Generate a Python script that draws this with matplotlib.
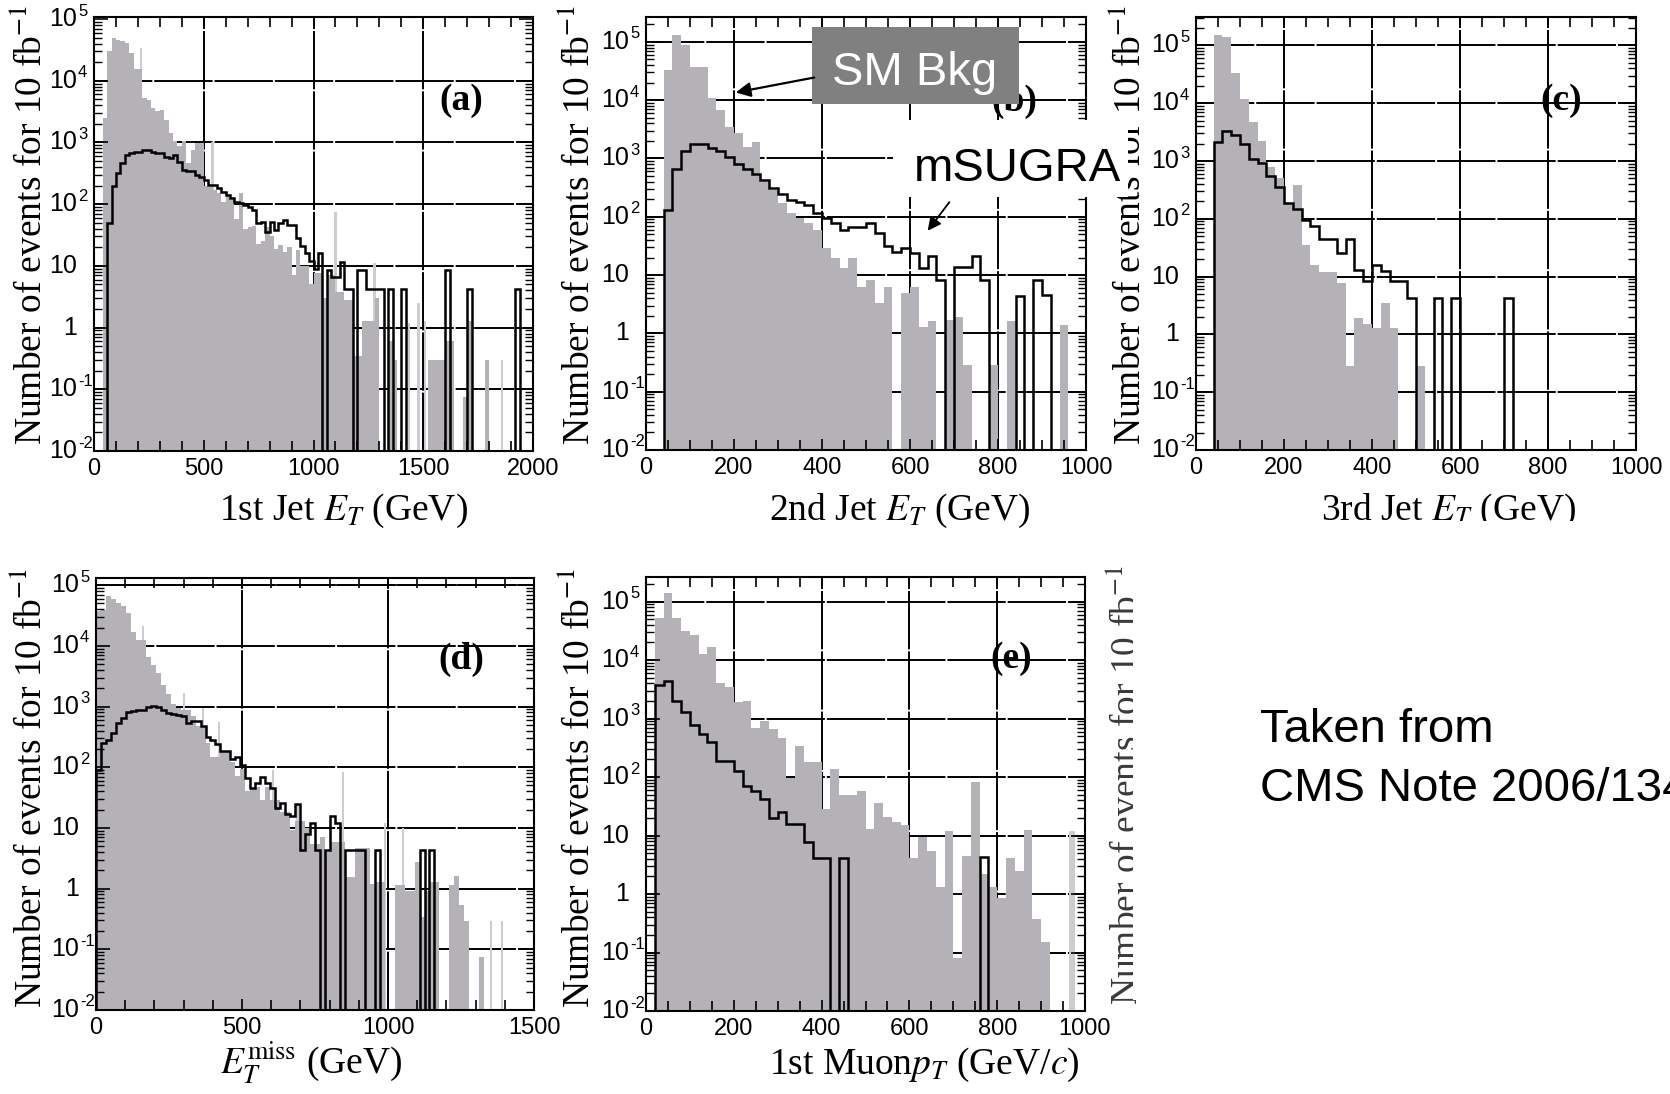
import numpy as np
import matplotlib
matplotlib.use("Agg")
import matplotlib.pyplot as plt
from matplotlib import transforms
from matplotlib.patches import Rectangle, FancyArrowPatch
from matplotlib.ticker import NullFormatter, FixedLocator

W, H, DPI = 1670, 1094, 100

BKG_COLOR = "#b4b2b7"
SPIKE_COLOR = "#cdcdd0"

# ---------------- (a) 1st jet ET, 20 GeV bins from 40 to 2000 GeV
a_edges = np.arange(40, 2001, 20)
a_bkg = [2500, 30000, 49000, 46000, 44000, 41000, 28000, 15500, 15500, 5200,
         4900, 3600, 3200, 3400, 2300, 1400, 1050, 870, 1050, 460,
         760, 980, 980, 200, 190, 170, 150, 110, 130, 115,
         58, 150, 40, 42, 45, 23, 25, 42, 30, 19,
         22, 17, 20, 7, 18, 10, 10, 5, 7.6, 7.6,
         3, 7, 7, 3.8, 3.8, 2.8, 2.8, 0.35, 0.35, 1.3,
         1.3, 1.3, 3, 0, 0, 0.6, 0.3, 0, 0, 0,
         0, 0, 0, 0, 0.3, 0.3, 0.3, 0.3, 0.6, 0.6,
         0, 0, 0.076, 1.3, 0, 0, 0, 0.3, 0, 0,
         0, 0, 0, 0, 0, 0, 0, 0]
a_sugra = [0, 49, 195, 315, 460, 630, 670, 710, 710, 760,
           760, 710, 670, 670, 590, 560, 630, 490, 360, 340,
           340, 300, 280, 245, 205, 205, 180, 160, 140, 125,
           110, 103, 96, 90, 80, 49, 52, 35, 52, 38,
           49, 56, 46, 46, 28, 21, 16, 12, 9, 16,
           0, 8.5, 6.6, 6.6, 11.5, 4.3, 4.3, 0, 8.5, 8.5,
           4.3, 4.3, 4.3, 4.3, 0, 4.3, 0, 0, 4.3, 0,
           0, 0, 0, 0, 0, 0, 0, 0, 8.5, 0,
           0, 0, 0, 4.3, 0, 0, 0, 0, 0, 0,
           0, 0, 0, 0, 4.3, 0, 0, 0]
a_spike_x = [215, 540, 1100, 1278, 1435, 1478, 1508, 1858]
a_spike_y = [34000, 1000, 75, 11, 1.2, 2.5, 1.3, 0.3]

# ---------------- (b) 2nd jet ET, 20 GeV bins from 40 to 1000 GeV
b_edges = np.arange(40, 1001, 20)
b_bkg = [3.3e4, 1.3e5, 8.8e4, 3.7e4, 3.7e4, 1.07e4, 6.8e3, 3.5e3, 2.7e3, 1.6e3,
         1.9e3, 400, 290, 170, 115, 94, 77, 59, 29, 20,
         13, 20, 6.3, 8.2, 3.3, 6.3, 0, 4.9, 6.3, 1.3,
         1.6, 0, 1.7, 1.9, 0.29, 0, 0, 0.29, 0, 1.6,
         0, 0, 0, 0, 0, 1.4, 0, 0]
b_sugra = [130, 660, 1350, 1750, 1750, 1500, 1350, 1070, 820, 670,
           550, 425, 310, 250, 194, 182, 160, 115, 94, 79,
           59, 67, 67, 77, 52, 31, 25, 29, 24, 13,
           21, 8.2, 0, 14, 14, 21, 8.2, 0, 0, 0,
           4.3, 0, 8.2, 4.6, 0, 0, 0, 0]

# ---------------- (c) 3rd jet ET, 20 GeV bins from 40 to 1000 GeV
c_edges = np.arange(40, 1001, 20)
c_bkg = [1.5e5, 1.4e5, 3.3e4, 1.2e4, 4.8e3, 2.2e3, 800, 500, 185, 390,
         35, 16, 12, 12, 7.7, 0.28, 1.95, 1.5, 1.3, 3.5,
         1.3, 0, 0, 0.28, 0, 0, 0, 0, 0, 0,
         0, 0, 0, 0, 0, 0, 0, 0, 0, 0,
         0, 0, 0, 0, 0, 0, 0, 0]
c_sugra = [2100, 3300, 2800, 2000, 1070, 910, 540, 350, 185, 150,
           96, 74, 44, 44, 26, 44, 13, 8.3, 16, 12.4,
           8.3, 8.3, 4.3, 0, 0, 4.3, 0, 4.3, 0, 0,
           0, 0, 0, 4.3, 0, 0, 0, 0, 0, 0,
           0, 0, 0, 0, 0, 0, 0, 0]

# ---------------- (d) missing ET, 88 bins over 0-1500 GeV
d_edges = np.linspace(0, 1500, 89)
d_bkg = [3.7e4, 3.9e4, 6.6e4, 5.8e4, 5.0e4, 4.5e4, 3.5e4, 1.7e4, 1.26e4, 1.26e4,
         6.6e3, 4.9e3, 3.5e3, 2.3e3, 1.6e3, 1.1e3, 930, 870, 870, 690,
         470, 470, 250, 150, 150, 180, 180, 123, 71, 95,
         40, 48, 48, 29, 48, 29, 29, 18.6, 18.6, 9.2,
         13, 13, 10, 5.5, 5.5, 7, 4, 5.9, 5.9, 5.9,
         1.55, 1.55, 4.6, 4.6, 4.6, 1.2, 1.3, 1.3, 0, 0,
         1.15, 1.15, 0.9, 0.9, 2.7, 0.34, 0.9, 1.3, 1.3, 0,
         0, 1.15, 1.6, 0.54, 0.29, 0, 0, 0.076, 0, 0,
         0, 0, 0, 0, 0, 0, 0, 0]
d_sugra = [90, 250, 280, 365, 530, 650, 800, 830, 880, 880,
           970, 1020, 970, 880, 780, 760, 720, 690, 540, 570,
           570, 470, 315, 280, 240, 182, 182, 135, 145, 110,
           66, 45, 55, 69, 55, 45, 21, 26, 17, 16,
           25, 4.3, 8, 12, 4.3, 0, 4.3, 16, 12, 0,
           4.3, 4.3, 4.3, 4.3, 0, 0, 4.3, 0, 0, 0,
           0, 0, 0, 0, 0, 4.3, 0, 4.3, 0, 0,
           0, 0, 0, 0, 0, 0, 0, 0, 0, 0,
           0, 0, 0, 0, 0, 0, 0, 0]
d_spike_x = [160, 300, 366, 420, 606, 690, 845, 990, 1050, 1354, 1390]
d_spike_y = [2.1e4, 1.7e3, 930, 560, 91, 25, 83, 12, 10, 0.29, 0.29]

# ---------------- (e) 1st muon pT, 20 GeV/c bins from 20 to 1000 GeV/c
e_edges = np.arange(20, 1001, 20)
e_bkg = [5.2e4, 1.4e5, 5.3e4, 3.2e4, 2.7e4, 1.25e4, 1.7e4, 4.1e3, 3.4e3, 1.9e3,
         2.0e3, 700, 900, 650, 460, 96, 345, 180, 180, 28,
         135, 49, 49, 57, 13, 36, 21, 17, 15, 4.1,
         9.4, 5.5, 1.3, 12, 0.079, 4.5, 82, 2.2, 1.3, 0.87,
         4.1, 2.5, 12.6, 0.38, 0.15, 0, 0, 0, 0]
e_sugra = [3700, 4300, 2000, 1300, 790, 550, 390, 185, 185, 129,
           71, 57, 42, 20, 25, 16, 16, 7.9, 4.1, 4.1,
           0, 4.1, 0, 0, 0, 0, 0, 0, 0, 0,
           0, 0, 0, 0, 0, 0, 0, 4.3, 0, 0,
           0, 0, 0, 0, 0, 0, 0, 0, 0]
e_spike_x = [970]
e_spike_y = [12]

x_titles = ["1st Jet $E_T$ (GeV)", "2nd Jet $E_T$ (GeV)", "3rd Jet $E_T$ (GeV)",
            "$E_T^{\\rm miss}$ (GeV)", "1st Muon$p_T$ (GeV/$c$)"]
y_title = "Number of events for 10 fb$^{-1}$"
panel_tags = ["(a)", "(b)", "(c)", "(d)", "(e)"]


def fx(x):
    return x / W


def fy(y):
    return 1 - y / H


fig = plt.figure(figsize=(W / DPI, H / DPI), dpi=DPI)
fig.patch.set_facecolor("white")

SERIF = "Liberation Serif"
SANS = "Liberation Sans"


def make_axes(box):
    x0, y0, x1, y1 = box
    return fig.add_axes([fx(x0), fy(y1), (x1 - x0) / W, (y1 - y0) / H])


def draw_panel(ax, edges, bkg, sugra, xmax, ymax, xmajor, xminor,
               spikes=None, spike_w=10):
    edges = np.asarray(edges, dtype=float)
    bkg = np.asarray(bkg, dtype=float)
    sugra = np.asarray(sugra, dtype=float)
    ax.set_yscale("log")
    ax.set_xlim(0, xmax)
    ax.set_ylim(1e-2, ymax)

    if spikes is not None:
        ax.bar(spikes[0], spikes[1], width=spike_w, bottom=1e-4,
               color=SPIKE_COLOR, lw=0, zorder=0.9)
    ax.stairs(np.where(bkg > 0, bkg, 1e-4), edges, fill=True, baseline=1e-4,
              color=BKG_COLOR, lw=0, zorder=1)
    ax.stairs(np.where(sugra > 0, sugra, 1e-4), edges, baseline=1e-4,
              fill=False, color="black", lw=1.8, zorder=2)

    # grid drawn beneath the histograms
    gstyle = dict(color="black", lw=1.4, ls=(0, (30, 1.0)), zorder=0.5)
    for xv in xmajor[1:-1]:
        ax.axvline(xv, **gstyle)
    for d in range(-1, 6):
        if 10.0 ** d < ymax / 1.3:
            ax.axhline(10.0 ** d, **gstyle)

    ax.set_xticks(xmajor)
    ax.set_xticklabels([str(v) for v in xmajor], fontsize=17, family=SANS)
    ax.xaxis.set_minor_locator(FixedLocator(np.arange(0, xmax + 1, xminor)))
    ax.yaxis.set_major_locator(FixedLocator([10.0 ** d for d in range(-2, 6)]))
    ax.yaxis.set_minor_locator(FixedLocator(
        [m * 10.0 ** d for d in range(-2, 6) for m in range(2, 10)]))
    ax.yaxis.set_major_formatter(NullFormatter())
    ax.yaxis.set_minor_formatter(NullFormatter())

    ax.tick_params(axis="both", which="both", direction="in", top=True,
                   right=True, color="black")
    ax.tick_params(axis="x", which="major", length=8, width=1.2, pad=5)
    ax.tick_params(axis="x", which="minor", length=7, width=1.2)
    ax.tick_params(axis="y", which="major", length=10, width=1.2)
    ax.tick_params(axis="y", which="minor", length=6, width=1.0)
    for s in ax.spines.values():
        s.set_linewidth(1.5)

    # decade labels: base number with a raised exponent beside it
    blend = transforms.blended_transform_factory(ax.transAxes, ax.transData)
    base_tr = transforms.offset_copy(blend, fig=fig, x=-17, y=0, units="dots")
    exp_tr = transforms.offset_copy(blend, fig=fig, x=-16, y=8, units="dots")
    for d in range(-2, 6):
        if 10.0 ** d > ymax * 1.05:
            continue
        base = "1" if d == 0 else "10"
        ax.text(0, 10.0 ** d, base, transform=base_tr, ha="right",
                va="center", fontsize=18, family=SANS)
        if d not in (0, 1):
            ax.text(0, 10.0 ** d, str(d), transform=exp_tr, ha="left",
                    va="center", fontsize=12, family=SANS)


boxes = [(94, 17, 533, 451), (646, 17, 1086, 450), (1196, 17, 1636, 450),
         (96, 578, 534, 1010), (646, 577, 1085, 1011)]
axes = [make_axes(b) for b in boxes]

draw_panel(axes[0], a_edges, a_bkg, a_sugra, 2000, 1.08e5,
           [0, 500, 1000, 1500, 2000], 100,
           spikes=(a_spike_x, a_spike_y), spike_w=10)
draw_panel(axes[1], b_edges, b_bkg, b_sugra, 1000, 2.67e5,
           [0, 200, 400, 600, 800, 1000], 50)
draw_panel(axes[2], c_edges, c_bkg, c_sugra, 1000, 3.1e5,
           [0, 200, 400, 600, 800, 1000], 50)
draw_panel(axes[3], d_edges, d_bkg, d_sugra, 1500, 1.31e5,
           [0, 500, 1000, 1500], 100,
           spikes=(d_spike_x, d_spike_y), spike_w=7)
draw_panel(axes[4], e_edges, e_bkg, e_sugra, 1000, 2.63e5,
           [0, 200, 400, 600, 800, 1000], 50,
           spikes=(e_spike_x, e_spike_y), spike_w=14)

# inner rule under the top frame of (d)
axes[3].plot([0, 1], [1 - 7 / 432] * 2, transform=axes[3].transAxes,
             color="black", lw=1.2, zorder=3, clip_on=False)

# y titles
for (xc, yc) in [(32, 225), (580, 225), (1131, 225), (32, 788), (580, 788)]:
    fig.text(fx(xc), fy(yc), y_title, rotation=90, ha="center", va="center",
             fontsize=27, family=SERIF, math_fontfamily="stix")
# partly erased title at the empty sixth position
fig.text(fx(1128), fy(785), y_title, rotation=90, ha="center", va="center",
         fontsize=27, family=SERIF, math_fontfamily="stix", color="#3a3a3a")
fig.add_artist(Rectangle((fx(1133), fy(1000)), 40 / W, 450 / H,
                         transform=fig.transFigure, facecolor="white",
                         edgecolor="none", zorder=9))

# x titles
for title, (xc, yc) in zip(x_titles, [(343, 511), (900, 511), (1449, 511),
                                      (311, 1063), (924, 1065)]):
    fig.text(fx(xc), fy(yc), title, ha="center", va="center", fontsize=27,
             family=SERIF, math_fontfamily="stix")

# panel tags
for tag, (xc, yc) in zip(panel_tags, [(461, 100), (1014, 101), (1561, 101),
                                      (461, 659), (1011, 659)]):
    fig.text(fx(xc), fy(yc), tag, ha="center", va="center", fontsize=27,
             fontweight="bold", family=SERIF)

# strip under the (c) x title
fig.add_artist(Rectangle((fx(1290), fy(560)), (1610 - 1290) / W, 39 / H,
                         transform=fig.transFigure, facecolor="white",
                         edgecolor="none", zorder=9))

# "SM Bkg" callout
fig.add_artist(Rectangle((fx(812), fy(104)), (1019 - 812) / W, (104 - 27) / H,
                         transform=fig.transFigure, facecolor="#808080",
                         edgecolor="none", zorder=10))
fig.text(fx(915), fy(85), "SM Bkg", color="white", fontsize=34, family=SANS,
         ha="center", va="baseline", zorder=11)
fig.add_artist(FancyArrowPatch((fx(817), fy(77)), (fx(733), fy(93)),
                               transform=fig.transFigure, arrowstyle="-|>",
                               mutation_scale=22, lw=1.6, color="black",
                               zorder=11))

# "mSUGRA" callout
fig.add_artist(Rectangle((fx(893), fy(197)), (1128 - 893) / W, (197 - 120) / H,
                         transform=fig.transFigure, facecolor="white",
                         edgecolor="none", zorder=10))
fig.text(fx(914), fy(181), "mSUGRA", color="black", fontsize=34, family=SANS,
         ha="left", va="baseline", zorder=11)
fig.add_artist(FancyArrowPatch((fx(951), fy(200)), (fx(926), fy(233)),
                               transform=fig.transFigure, arrowstyle="-|>",
                               mutation_scale=20, lw=1.3, color="black",
                               zorder=11))

# source note
fig.text(fx(1260), fy(742), "Taken from", fontsize=34, family=SANS,
         va="baseline", ha="left")
fig.text(fx(1260), fy(801), "CMS Note 2006/134", fontsize=34, family=SANS,
         va="baseline", ha="left")

fig.savefig("out.png", dpi=DPI, facecolor="white")
